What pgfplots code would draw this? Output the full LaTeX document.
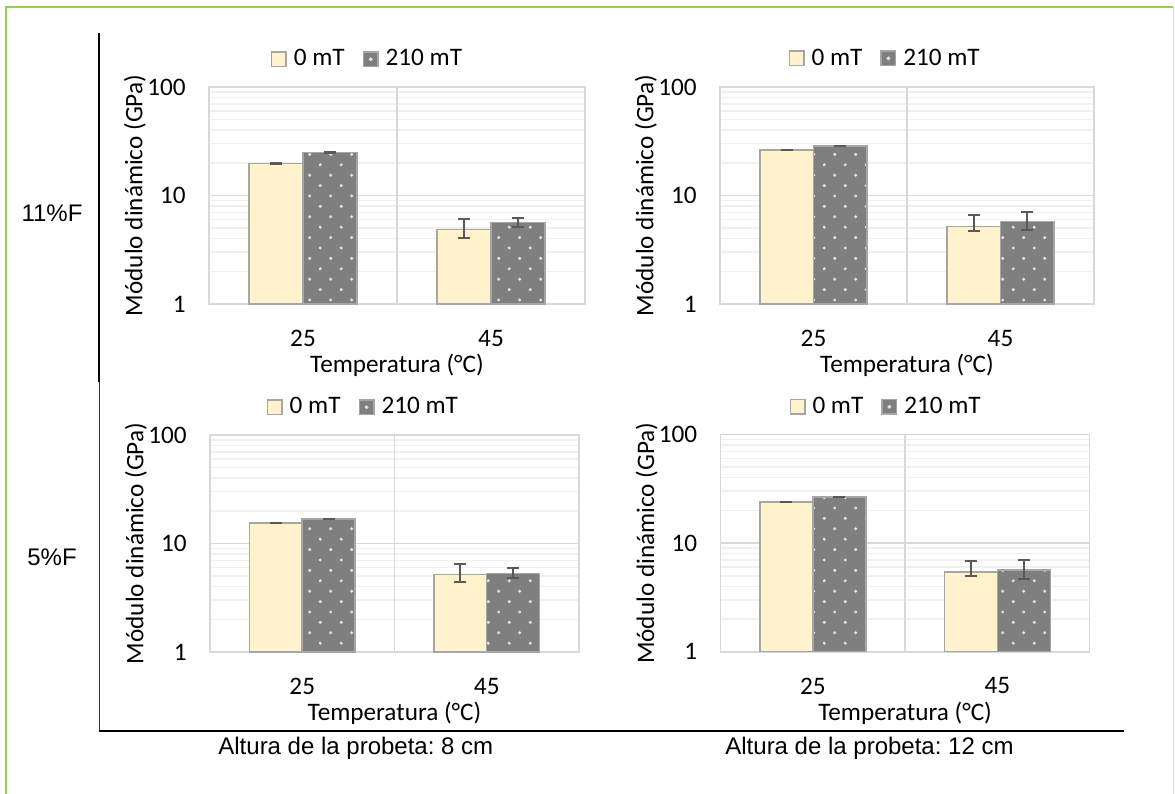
\documentclass[border=0pt]{standalone}
\usepackage{pgfplots}
\pgfplotsset{compat=1.18}
\usepackage{fontspec}
\setmainfont{Carlito}
\newfontfamily\arialfont{Liberation Sans}
\usetikzlibrary{patterns}
\definecolor{barY}{HTML}{FFF2CC}
\definecolor{barG}{HTML}{7F7F7F}
\definecolor{barEdge}{HTML}{A6A6A6}
\definecolor{gridMaj}{HTML}{D9D9D9}
\definecolor{gridMin}{HTML}{F0F0F0}
\definecolor{errC}{HTML}{595959}
\definecolor{frameGreen}{HTML}{92D050}
\pgfdeclarepatternformonly{exceldots}{\pgfpoint{-1pt}{-1pt}}{\pgfpoint{11.5pt}{11.5pt}}{\pgfpoint{10.5pt}{10.4pt}}{%
 \pgfpathcircle{\pgfpoint{2.6pt}{2.6pt}}{0.85pt}%
 \pgfpathcircle{\pgfpoint{7.85pt}{7.8pt}}{0.85pt}%
 \pgfusepath{fill}}
\newcommand\cf{\fontsize{12.6}{15}\selectfont}
\newcommand\af{\arialfont\fontsize{12}{14}\selectfont}
\pgfplotsset{
 ybarY/.style={ybar, bar width=0.287, bar shift=0pt, fill=barY, draw=barEdge, line width=0.75pt, forget plot,
   error bars/y dir=both, error bars/y explicit,
   error bars/error bar style={draw=errC, line width=1pt},
   error bars/error mark options={draw=errC, line width=1pt, mark size=3pt, rotate=90}},
 ybarG/.style={ybar, bar width=0.287, bar shift=0pt, fill=barG, draw=barEdge, line width=0.75pt, forget plot,
   postaction={pattern=exceldots, pattern color=white!88!black},
   error bars/y dir=both, error bars/y explicit,
   error bars/error bar style={draw=errC, line width=1pt},
   error bars/error mark options={draw=errC, line width=1pt, mark size=3pt, rotate=90}},
 legY/.style={legend image code/.code={\draw[fill=barY, draw=barEdge, line width=0.75pt] (0pt,-3.6pt) rectangle (7.2pt,3.6pt);}},
 legG/.style={legend image code/.code={\draw[fill=barG, draw=barEdge, line width=0.75pt] (0pt,-3.6pt) rectangle (7.2pt,3.6pt); \fill[white!88!black] (3.6pt,0pt) circle (0.75pt);}},
}
\begin{document}
\frenchspacing
\begin{tikzpicture}
\path[use as bounding box] (0pt,0pt) rectangle (587.5pt,-397pt);
% outer frame and separators
\draw[frameGreen, line width=1pt] (2.75pt,-420pt) -- (2.75pt,-3.5pt) -- (586.5pt,-3.5pt);
\draw[frameGreen!45, line width=0.75pt] (586.8pt,-3.5pt) -- (586.8pt,-420pt);
\draw[black, line width=1pt] (49.5pt,-16.5pt) -- (49.5pt,-191pt);
\draw[black!80, line width=0.5pt] (49.5pt,-191pt) -- (49.5pt,-365.5pt);
\draw[black, line width=0.75pt] (49.5pt,-365.5pt) -- (562pt,-365.5pt);
\node[font=\af, anchor=center] at (26pt,-106.5pt) {11\%F};
\node[font=\af, anchor=center] at (26pt,-278.5pt) {5\%F};
\node[font=\af, anchor=west, inner sep=0pt] at (109pt,-374pt) {Altura de la probeta: 8 cm};
\node[font=\af, anchor=west, inner sep=0pt] at (362.5pt,-374pt) {Altura de la probeta: 12 cm};

% top-left: 11%F, 8 cm
\begin{axis}[scale only axis, width=188pt, height=108.5pt, at={(104.5pt,-152pt)}, anchor=south west,
  xmin=-0.5, xmax=1.5, ymode=log, ymin=1, ymax=100,
  xtick={0,1}, xticklabels={25,45}, ytick={1,10,100}, yticklabels={1,10,100},
  minor ytick={2,3,4,5,6,7,8,9,20,30,40,50,60,70,80,90},
  major tick length=0pt, minor tick length=0pt, ymajorgrids, yminorgrids,
  major grid style={draw=gridMaj, line width=0.75pt}, minor grid style={draw=gridMin, line width=0.75pt},
  extra x ticks={0.5}, extra x tick labels={}, extra x tick style={xmajorgrids=true},
  axis line style={draw=gridMaj, line width=0.75pt},
  ticklabel style={font=\cf}, /pgf/number format/assume math mode=true,
  yticklabel style={anchor=east, inner sep=0pt, xshift=-11.5pt},
  xticklabel style={anchor=north, inner sep=0pt, yshift=-12.75pt},
  xlabel={Temperatura (°C)}, ylabel={Módulo dinámico (GPa)}, label style={font=\cf},
  xlabel style={at={(axis description cs:0.5,0)}, anchor=center, yshift=-30.75pt},
  ylabel style={at={(axis description cs:0,0.5)}, anchor=center, yshift=37pt},
  legend columns=2,
  legend style={draw=none, fill=none, font=\cf, inner sep=0pt, column sep=3.5pt,
    /tikz/every even column/.append style={column sep=9pt}, nodes={inner sep=0pt},
    at={(axis description cs:0.419,1.128)}, anchor=center}]
\addlegendimage{legY}\addlegendentry{0 mT}
\addlegendimage{legG}\addlegendentry{210 mT}
\addplot[ybarY] coordinates {(-0.1435,19.8) += (0,0.1) -= (0,0.1) (0.8565,4.88) += (0,1.19) -= (0,0.82)};
\addplot[ybarG] coordinates {(0.1435,24.8) += (0,0.12) -= (0,0.12) (1.1435,5.61) += (0,0.63) -= (0,0.45)};
\end{axis}

% top-right: 11%F, 12 cm
\begin{axis}[scale only axis, width=187pt, height=108.5pt, at={(360pt,-152pt)}, anchor=south west,
  xmin=-0.5, xmax=1.5, ymode=log, ymin=1, ymax=100,
  xtick={0,1}, xticklabels={25,45}, ytick={1,10,100}, yticklabels={1,10,100},
  minor ytick={2,3,4,5,6,7,8,9,20,30,40,50,60,70,80,90},
  major tick length=0pt, minor tick length=0pt, ymajorgrids, yminorgrids,
  major grid style={draw=gridMaj, line width=0.75pt}, minor grid style={draw=gridMin, line width=0.75pt},
  extra x ticks={0.5}, extra x tick labels={}, extra x tick style={xmajorgrids=true},
  axis line style={draw=gridMaj, line width=0.75pt},
  ticklabel style={font=\cf}, /pgf/number format/assume math mode=true,
  yticklabel style={anchor=east, inner sep=0pt, xshift=-11.5pt},
  xticklabel style={anchor=north, inner sep=0pt, yshift=-12.75pt},
  xlabel={Temperatura (°C)}, ylabel={Módulo dinámico (GPa)}, label style={font=\cf},
  xlabel style={at={(axis description cs:0.5,0)}, anchor=center, yshift=-30.75pt},
  ylabel style={at={(axis description cs:0,0.5)}, anchor=center, yshift=37pt},
  legend columns=2,
  legend style={draw=none, fill=none, font=\cf, inner sep=0pt, column sep=3.5pt,
    /tikz/every even column/.append style={column sep=9pt}, nodes={inner sep=0pt},
    at={(axis description cs:0.439,1.132)}, anchor=center}]
\addlegendimage{legY}\addlegendentry{0 mT}
\addlegendimage{legG}\addlegendentry{210 mT}
\addplot[ybarY] coordinates {(-0.1435,26.3) += (0,0.12) -= (0,0.12) (0.8565,5.16) += (0,1.46) -= (0,0.42)};
\addplot[ybarG] coordinates {(0.1435,28.6) += (0,0.12) -= (0,0.12) (1.1435,5.74) += (0,1.36) -= (0,0.92)};
\end{axis}

% bottom-left: 5%F, 8 cm
\begin{axis}[scale only axis, width=184.5pt, height=108.5pt, at={(105pt,-326pt)}, anchor=south west,
  xmin=-0.5, xmax=1.5, ymode=log, ymin=1, ymax=100,
  xtick={0,1}, xticklabels={25,45}, ytick={1,10,100}, yticklabels={1,10,100},
  minor ytick={2,3,4,5,6,7,8,9,20,30,40,50,60,70,80,90},
  major tick length=0pt, minor tick length=0pt, ymajorgrids, yminorgrids,
  major grid style={draw=gridMaj, line width=0.75pt}, minor grid style={draw=gridMin, line width=0.75pt},
  extra x ticks={0.5}, extra x tick labels={}, extra x tick style={xmajorgrids=true},
  axis line style={draw=gridMaj, line width=0.75pt},
  ticklabel style={font=\cf}, /pgf/number format/assume math mode=true,
  yticklabel style={anchor=east, inner sep=0pt, xshift=-11.5pt},
  xticklabel style={anchor=north, inner sep=0pt, yshift=-12.75pt},
  xlabel={Temperatura (°C)}, ylabel={Módulo dinámico (GPa)}, label style={font=\cf},
  xlabel style={at={(axis description cs:0.5,0)}, anchor=center, yshift=-30.75pt},
  ylabel style={at={(axis description cs:0,0.5)}, anchor=center, yshift=37pt},
  legend columns=2,
  legend style={draw=none, fill=none, font=\cf, inner sep=0pt, column sep=3.5pt,
    /tikz/every even column/.append style={column sep=9pt}, nodes={inner sep=0pt},
    at={(axis description cs:0.413,1.128)}, anchor=center}]
\addlegendimage{legY}\addlegendentry{0 mT}
\addlegendimage{legG}\addlegendentry{210 mT}
\addplot[ybarY] coordinates {(-0.1435,15.5) += (0,0.08) -= (0,0.08) (0.8565,5.2) += (0,1.23) -= (0,0.81)};
\addplot[ybarG] coordinates {(0.1435,16.8) += (0,0.08) -= (0,0.08) (1.1435,5.31) += (0,0.63) -= (0,0.54)};
\end{axis}

% bottom-right: 5%F, 12 cm
\begin{axis}[scale only axis, width=184.5pt, height=108.7pt, at={(360.3pt,-325.9pt)}, anchor=south west,
  xmin=-0.5, xmax=1.5, ymode=log, ymin=1, ymax=100,
  xtick={0,1}, xticklabels={25,45}, ytick={1,10,100}, yticklabels={1,10,100},
  minor ytick={2,3,4,5,6,7,8,9,20,30,40,50,60,70,80,90},
  major tick length=0pt, minor tick length=0pt, ymajorgrids, yminorgrids,
  major grid style={draw=gridMaj, line width=0.75pt}, minor grid style={draw=gridMin, line width=0.75pt},
  extra x ticks={0.5}, extra x tick labels={}, extra x tick style={xmajorgrids=true},
  axis line style={draw=gridMaj, line width=0.75pt},
  ticklabel style={font=\cf}, /pgf/number format/assume math mode=true,
  yticklabel style={anchor=east, inner sep=0pt, xshift=-11.5pt},
  xticklabel style={anchor=north, inner sep=0pt, yshift=-12.75pt},
  xlabel={Temperatura (°C)}, ylabel={Módulo dinámico (GPa)}, label style={font=\cf},
  xlabel style={at={(axis description cs:0.5,0)}, anchor=center, yshift=-30.75pt},
  ylabel style={at={(axis description cs:0,0.5)}, anchor=center, yshift=37pt},
  legend columns=2,
  legend style={draw=none, fill=none, font=\cf, inner sep=0pt, column sep=3.5pt,
    /tikz/every even column/.append style={column sep=9pt}, nodes={inner sep=0pt},
    at={(axis description cs:0.446,1.127)}, anchor=center}]
\addlegendimage{legY}\addlegendentry{0 mT}
\addlegendimage{legG}\addlegendentry{210 mT}
\addplot[ybarY] coordinates {(-0.1435,24.0) += (0,0.12) -= (0,0.12) (0.8565,5.41) += (0,1.38) -= (0,0.44)};
\addplot[ybarG] coordinates {(0.1435,26.5) += (0,0.12) -= (0,0.12) (1.1435,5.65) += (0,1.33) -= (0,0.98)};
\end{axis}
\end{tikzpicture}
\end{document}
